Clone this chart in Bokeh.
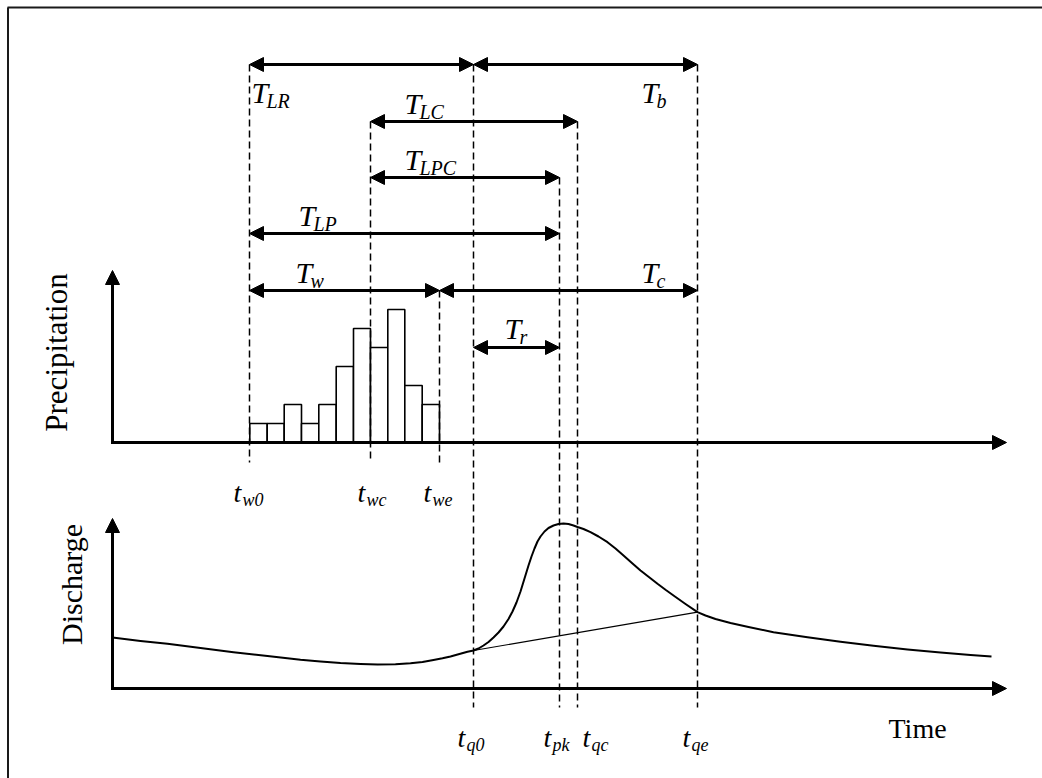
import math
from bokeh.plotting import figure
from bokeh.models import Range1d, Arrow, NormalHead
from bokeh.core.properties import value
from bokeh.embed import file_html
from bokeh.resources import INLINE

# ---------------- data ----------------
event_names = ["w0", "wc", "we", "q0", "pk", "qc", "qe"]
event_times = [249, 370, 439, 473, 559, 577, 697]

bar_left = [249.3, 266.7, 283.7, 301.0, 318.3, 335.7, 353.0, 370.0, 387.3, 404.3, 421.7]
bar_right = [266.7, 283.7, 301.0, 318.3, 335.7, 353.0, 370.0, 387.3, 404.3, 421.7, 439.0]
precip_values = [1, 1, 2, 1, 2, 4, 6, 5, 7, 3, 2]

flow_times = [112, 140, 167, 200, 233, 267, 300, 320, 340, 360, 377, 395, 410, 422, 433,
              442, 450, 458, 467, 473, 478, 483, 488, 493, 498, 503, 508, 512, 516,
              520, 524, 528, 531, 534, 537, 540, 544, 548, 553, 558, 563, 568, 573,
              577, 583, 590, 598, 607, 615, 623, 632, 640, 649, 657, 665, 673, 685,
              697, 705, 715, 730, 748, 773, 807, 840, 873, 907, 940, 970, 991]
flow_values = [5.1, 4.75, 4.47, 4.05, 3.63, 3.25, 2.87, 2.7, 2.55, 2.45, 2.4, 2.42, 2.52,
               2.65, 2.85, 3.02, 3.2, 3.42, 3.68, 3.8, 4.0, 4.3, 4.65, 5.1, 5.6, 6.2,
               6.95, 7.7, 8.6, 9.7, 11.0, 12.3, 13.2, 14.0, 14.7, 15.2, 15.7, 16.05,
               16.3, 16.45, 16.5, 16.45, 16.3, 16.15, 15.95, 15.63, 15.2, 14.63, 14.0,
               13.3, 12.5, 11.8, 11.1, 10.47, 9.87, 9.3, 8.45, 7.63, 7.3, 6.95, 6.55,
               6.15, 5.63, 5.13, 4.67, 4.27, 3.9, 3.6, 3.35, 3.2]

baseflow_times = [473, 697]
baseflow_values = [3.8, 7.63]

# interval labels: (subscript, start event, end event)
interval_subs = ["LR", "b", "LC", "LPC", "LP", "w", "c", "r"]
interval_start = ["w0", "q0", "wc", "wc", "w0", "w0", "we", "q0"]
interval_end = ["q0", "qe", "qc", "pk", "pk", "we", "qe", "pk"]

axis_label_top = "Precipitation"
axis_label_bottom = "Discharge"
time_label = "Time"

# ---------------- layout ----------------
W, H = 1042, 778
SHIFT = 0.33  # em correction for the svg text baseline


def Y(ypix):
    return H - ypix


def base(ypix, size):
    # screen baseline (pixels from top) -> data y for the text glyph
    return Y(ypix - SHIFT * size)


ev = dict(zip(event_names, event_times))

interval_row = [64, 64, 121, 177, 233, 290, 290, 347]
interval_lab_x = [251, 641, 404, 404, 298, 295, 641, 504]
interval_lab_y = [102, 102, 113, 169, 225, 282, 282, 338]

guide_top = {"w0": 64, "wc": 121, "we": 290, "q0": 64, "pk": 177, "qc": 121, "qe": 64}
guide_bot = {"w0": 462, "wc": 462, "we": 462, "q0": 707, "pk": 707, "qc": 707, "qe": 707}
tick_lab_x = {"w0": 233, "wc": 357, "we": 423, "q0": 457, "pk": 543, "qc": 582, "qe": 682}
tick_lab_y = {"w0": 501, "wc": 501, "we": 501, "q0": 746, "pk": 746, "qc": 746, "qe": 746}

p = figure(width=W, height=H, x_range=Range1d(0, W), y_range=Range1d(0, H),
           min_border=0, output_backend="svg", toolbar_location=None,
           x_axis_location=None, y_axis_location=None)
p.grid.visible = False
p.outline_line_color = None
p.background_fill_color = "white"
p.border_fill_color = "white"

p.extra_y_ranges = {
    "precip": Range1d(-(778 - 442) / 19.0, 442 / 19.0),
    "flow": Range1d(-(778 - 688) / 10.0, 688 / 10.0),
}

FONT = value("Liberation Serif")

# frame (top and left edges)
p.line(x=[7, W], y=[Y(7), Y(7)], line_color="#1a1a1a", line_width=2)
p.line(x=[7.5, 7.5], y=[Y(7), 0], line_color="#1a1a1a", line_width=2)

# precipitation bars
p.quad(left=bar_left, right=bar_right, bottom=0, top=precip_values, y_range_name="precip",
       fill_color="white", line_color="black", line_width=1.6)

# dashed guides
gx = [ev[n] for n in event_names]
p.segment(x0=gx, x1=gx, y0=[Y(guide_top[n]) for n in event_names],
          y1=[Y(guide_bot[n]) for n in event_names],
          line_color="black", line_width=1.5, line_dash="7 4")

# hydrograph
p.line(x=flow_times, y=flow_values, y_range_name="flow", line_color="black",
       line_width=2, line_join="round")
p.line(x=baseflow_times, y=baseflow_values, y_range_name="flow", line_color="black",
       line_width=1.2)


def head():
    return NormalHead(size=14, fill_color="black", line_color="black", line_width=1)


def axis_arrow(x0, y0, x1, y1):
    p.add_layout(Arrow(x_start=x0, y_start=Y(y0), x_end=x1, y_end=Y(y1),
                       line_width=3, line_color="black", end=head()))


axis_arrow(112, 443.5, 112, 270)
axis_arrow(110.5, 442, 1006, 442)
axis_arrow(112, 689.5, 112, 518)
axis_arrow(110.5, 688, 1006, 688)

# interval arrows
for s, e, row in zip(interval_start, interval_end, interval_row):
    p.add_layout(Arrow(x_start=ev[s], y_start=Y(row), x_end=ev[e], y_end=Y(row),
                       line_width=3, line_color="black", start=head(), end=head()))

# interval labels
TS, SS = 30, 20
p.text(x=interval_lab_x, y=[base(v, TS) for v in interval_lab_y], text=["T"] * len(interval_subs),
       text_font=FONT, text_font_style="italic", text_font_size=f"{TS}px",
       text_baseline="alphabetic", text_align="left", text_color="black")
p.text(x=[v + 15 for v in interval_lab_x], y=[base(v + 5, SS) for v in interval_lab_y],
       text=interval_subs, text_font=FONT, text_font_style="italic", text_font_size=f"{SS}px",
       text_baseline="alphabetic", text_align="left", text_color="black")

# event labels
ES, ESS = 28, 18
p.text(x=[tick_lab_x[n] for n in event_names], y=[base(tick_lab_y[n], ES) for n in event_names],
       text=["t"] * len(event_names), text_font=FONT, text_font_style="italic",
       text_font_size=f"{ES}px", text_baseline="alphabetic", text_align="left", text_color="black")
p.text(x=[tick_lab_x[n] + 9 for n in event_names], y=[base(tick_lab_y[n] + 4, ESS) for n in event_names],
       text=event_names, text_font=FONT, text_font_style="italic",
       text_font_size=f"{ESS}px", text_baseline="alphabetic", text_align="left", text_color="black")

# axis labels (rotated, baseline on the right side)
p.text(x=[66 - SHIFT * 31], y=[Y(352)], text=[axis_label_top],
       angle=math.pi / 2, text_font=FONT, text_font_size="31px",
       text_baseline="alphabetic", text_align="center", text_color="black")
p.text(x=[81 - SHIFT * 30], y=[Y(584)], text=[axis_label_bottom],
       angle=math.pi / 2, text_font=FONT, text_font_size="30px",
       text_baseline="alphabetic", text_align="center", text_color="black")
p.text(x=[888], y=[base(737, 28)], text=[time_label], text_font=FONT, text_font_size="28px",
       text_baseline="alphabetic", text_align="left", text_color="black")

open("out.html", "w").write(file_html(p, INLINE))
